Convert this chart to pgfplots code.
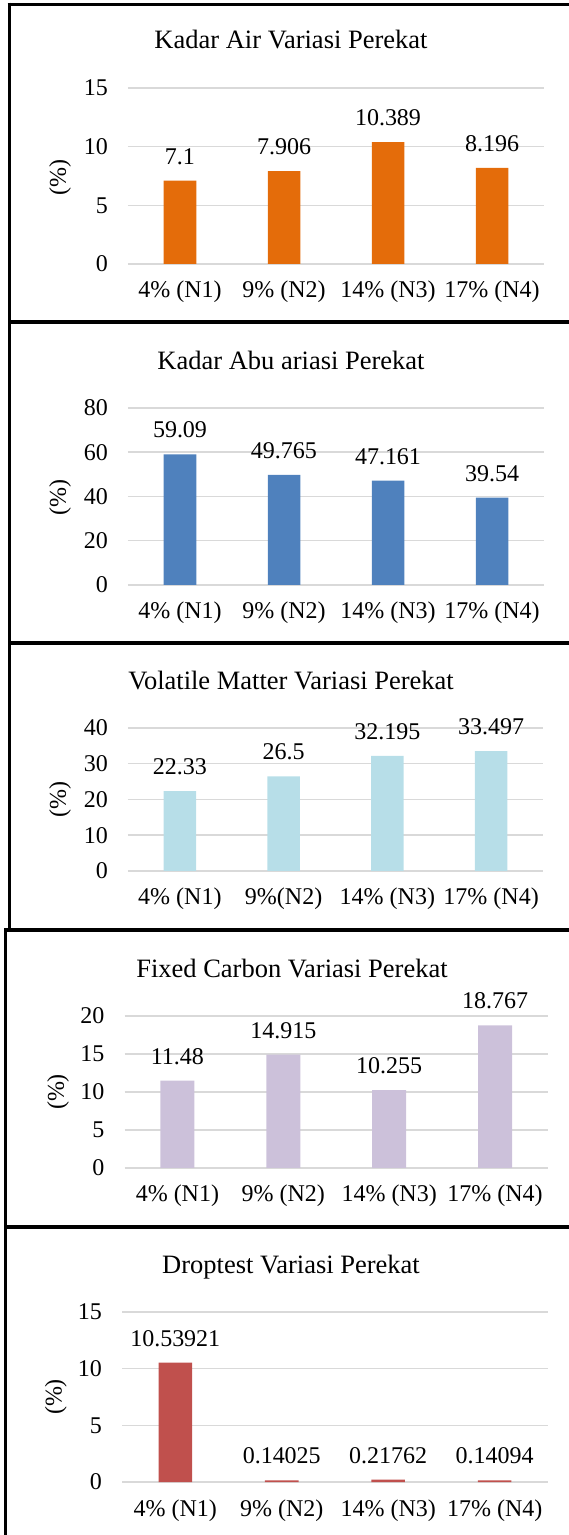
\documentclass[border=0pt]{standalone}
\usepackage{fontspec}
\setmainfont{Liberation Serif}
\usepackage{pgfplots}
\pgfplotsset{compat=1.18}

\definecolor{airorange}{HTML}{E46C0A}
\definecolor{abublue}{HTML}{4F81BD}
\definecolor{vmblue}{HTML}{B7DEE8}
\definecolor{fclav}{HTML}{CCC1DA}
\definecolor{dropred}{HTML}{C0504D}
\definecolor{gridgray}{HTML}{D9D9D9}

\pgfplotsset{
  every axis title shift=0pt,
  panel/.style={
    scale only axis,
    xmin=-0.5, xmax=3.5, xtick={0,1,2,3},
    ymin=0, enlargelimits=false,
    axis line style={draw=none},
    major tick length=0pt,
    ymajorgrids,
    grid style={line width=1.5pt, color=gridgray},
    ybar, bar width=32.5pt,
    font=\fontsize{24}{28}\selectfont,
    /pgf/number format/assume math mode=true,
    title style={font=\fontsize{26.5}{30}\selectfont, anchor=base, inner sep=0pt},
    yticklabel style={anchor=east, inner sep=0pt, xshift=-20pt},
    xticklabel style={anchor=base, inner sep=0pt, yshift=-34pt},
    nodes near coords,
    point meta=explicit symbolic,
    nodes near coords style={anchor=base, inner sep=0pt, yshift=16.5pt,
      font=\fontsize{24}{28}\selectfont, text=black},
    ylabel={(\%)},
  }
}

\begin{document}
\begin{tikzpicture}
\useasboundingbox (0pt,0pt) rectangle (569pt,1535pt);

% frame lines between the five charts
\draw[line width=3.3pt] (7.5pt,1530.7pt) -- (572pt,1530.7pt);
\draw[line width=4pt] (8pt,1212.5pt) -- (572pt,1212.5pt);
\draw[line width=4pt] (8pt,892pt) -- (572pt,892pt);
\draw[line width=4pt] (4pt,604.5pt) -- (572pt,604.5pt);
\draw[line width=4pt] (4pt,308pt) -- (572pt,308pt);
\draw[line width=3pt] (9.5pt,1532.3pt) -- (9.5pt,604.5pt);
\draw[line width=3pt] (5.5pt,606.5pt) -- (5.5pt,-2pt);

% Kadar Air
\begin{axis}[panel, at={(128pt,1271pt)}, anchor=south west,
  width=416pt, height=176pt, ymax=15, ytick={0,5,10,15},
  xticklabels={4\% (N1),9\% (N2),14\% (N3),17\% (N4)},
  title={Kadar Air Variasi Perekat},
  title style={at={(axis description cs:0.3918,1.2216)}},
  ylabel style={at={(axis description cs:-0.1635,0.494)}, anchor=center}]
\addplot[fill=airorange, draw=none] table[meta=lab] {
x y lab
0 7.1 7.1
1 7.906 7.906
2 10.389 10.389
3 8.196 8.196
};
\end{axis}

% Kadar Abu
\begin{axis}[panel, at={(128pt,950pt)}, anchor=south west,
  width=416pt, height=177pt, ymax=80, ytick={0,20,40,60,80},
  xticklabels={4\% (N1),9\% (N2),14\% (N3),17\% (N4)},
  title={Kadar Abu ariasi Perekat},
  title style={at={(axis description cs:0.3918,1.2203)}},
  ylabel style={at={(axis description cs:-0.1635,0.497)}, anchor=center}]
\addplot[fill=abublue, draw=none] table[meta=lab] {
x y lab
0 59.09 59.09
1 49.765 49.765
2 47.161 47.161
3 39.54 39.54
};
\end{axis}

% Volatile Matter
\begin{axis}[panel, at={(128pt,664pt)}, anchor=south west,
  width=415pt, height=143pt, ymax=40, ytick={0,10,20,30,40},
  xticklabels={4\% (N1),9\%(N2),14\% (N3),17\% (N4)},
  title={Volatile Matter Variasi Perekat},
  title style={at={(axis description cs:0.3928,1.2657)}},
  ylabel style={at={(axis description cs:-0.1639,0.4965)}, anchor=center}]
\addplot[fill=vmblue, draw=none] table[meta=lab] {
x y lab
0 22.33 22.33
1 26.5 26.5
2 32.195 32.195
3 33.497 33.497
};
\end{axis}

% Fixed Carbon
\begin{axis}[panel, at={(124.5pt,367pt)}, anchor=south west,
  width=423.5pt, height=152pt, ymax=20, ytick={0,5,10,15,20},
  bar width=34pt,
  xticklabels={4\% (N1),9\% (N2),14\% (N3),17\% (N4)},
  title={Fixed Carbon Variasi Perekat},
  title style={at={(axis description cs:0.3955,1.25)}},
  ylabel style={at={(axis description cs:-0.157,0.5)}, anchor=center}]
\addplot[fill=fclav, draw=none] table[meta=lab] {
x y lab
0 11.48 11.48
1 14.915 14.915
2 10.255 10.255
3 18.767 18.767
};
\end{axis}

% Droptest
\begin{axis}[panel, at={(122pt,53pt)}, anchor=south west,
  width=426pt, height=170pt, ymax=15, ytick={0,5,10,15},
  bar width=33.5pt,
  xticklabels={4\% (N1),9\% (N2),14\% (N3),17\% (N4)},
  title={Droptest Variasi Perekat},
  title style={at={(axis description cs:0.3967,1.229)}},
  ylabel style={at={(axis description cs:-0.155,0.5)}, anchor=center}]
\addplot[fill=dropred, draw=none] table[meta=lab] {
x y lab
0 10.53921 10.53921
1 0.14025 0.14025
2 0.21762 0.21762
3 0.14094 0.14094
};
\end{axis}
\end{tikzpicture}
\end{document}
